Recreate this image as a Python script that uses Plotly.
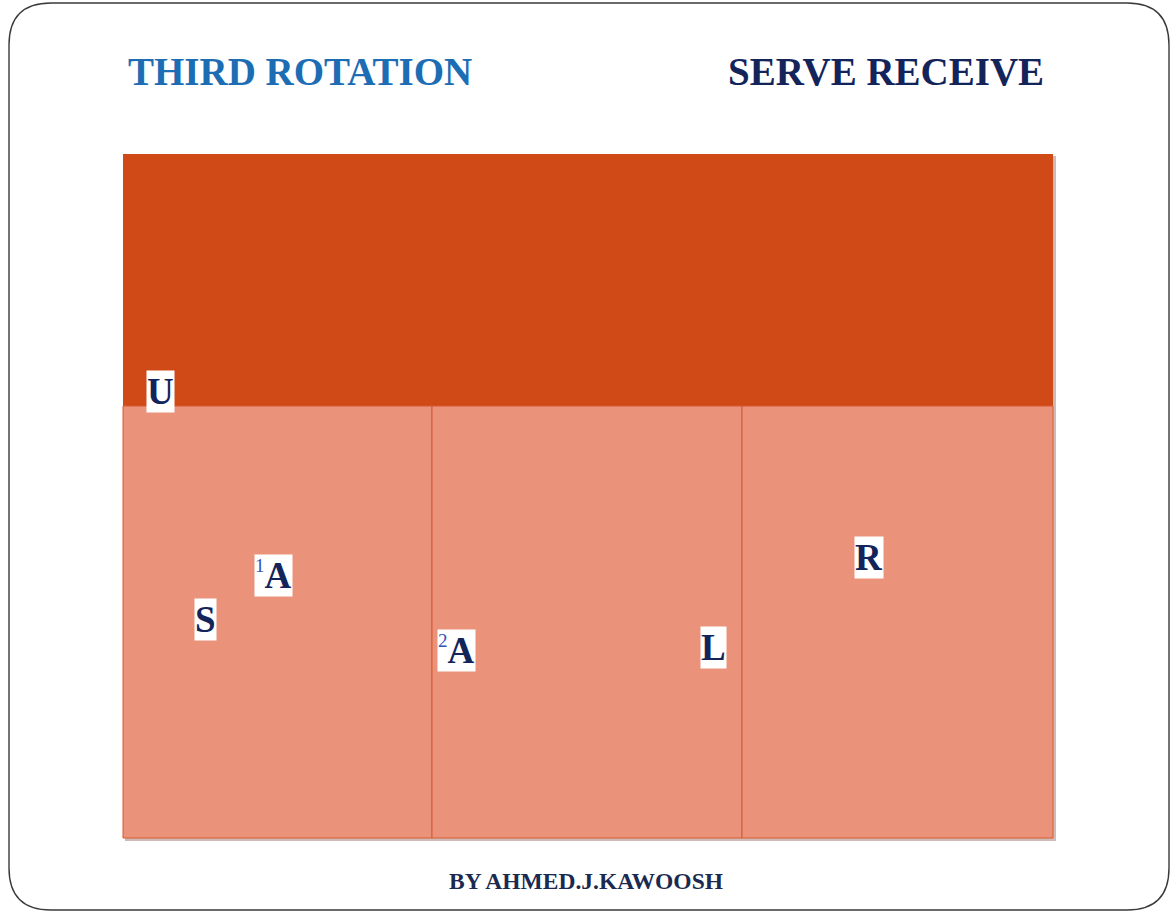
import plotly.graph_objects as go

# ---- data ----
W, H = 1175, 914
court_x = [123, 432, 742, 1053]          # column boundaries
court_y = [154, 406, 838]                # top, attack line, baseline
players = ["U", "A", "S", "A", "L", "R"]
player_sup = ["", "1", "", "2", "", ""]
player_x = [160, 273, 205, 456, 713, 869]
player_y = [391, 575, 619, 650, 647, 557]
title_left = "THIRD ROTATION"
title_right = "SERVE RECEIVE"
footer = "BY AHMED.J.KAWOOSH"

fig = go.Figure()
fig.add_trace(go.Scatter(x=[0, W], y=[0, H], mode="markers",
                         marker=dict(opacity=0), hoverinfo="skip", showlegend=False))

shapes = []
# slide border (rounded)
r = 42
x0, y0, x1, y1 = 9, 3, 1169, 910
path = (f"M{x0+r},{y0} L{x1-r},{y0} Q{x1},{y0} {x1},{y0+r} L{x1},{y1-r} "
        f"Q{x1},{y1} {x1-r},{y1} L{x0+r},{y1} Q{x0},{y1} {x0},{y1-r} "
        f"L{x0},{y0+r} Q{x0},{y0} {x0+r},{y0} Z")
shapes.append(dict(type="path", path=path, xref="x", yref="y",
                   line=dict(color="#3a3a3a", width=1.4), fillcolor="white", layer="below"))
# shadow
shapes.append(dict(type="rect", xref="x", yref="y", x0=court_x[0]+2, x1=court_x[-1]+3,
                   y0=court_y[0]+2, y1=court_y[-1]+3, line=dict(width=0),
                   fillcolor="rgba(120,60,40,0.35)", layer="below"))
# front zone
shapes.append(dict(type="rect", xref="x", yref="y", x0=court_x[0], x1=court_x[-1],
                   y0=court_y[0], y1=court_y[1], line=dict(width=0),
                   fillcolor="#d04a17", layer="below"))
# back zones
for i in range(3):
    shapes.append(dict(type="rect", xref="x", yref="y", x0=court_x[i], x1=court_x[i+1],
                       y0=court_y[1], y1=court_y[2],
                       line=dict(color="#d65a30", width=1),
                       fillcolor="#eb937a", layer="below"))

annotations = []
for name, sup, px, py in zip(players, player_sup, player_x, player_y):
    txt = f"<b>{name}</b>" if not sup else \
        f"<sup><span style='font-size:19px;color:#3452b4'>{sup}</span></sup><b>{name}</b>"
    annotations.append(dict(x=px, y=py, xref="x", yref="y", text=txt, showarrow=False,
                            font=dict(family="Liberation Serif", size=37, color="#13245a"),
                            bgcolor="white", borderpad=0,
                            xanchor="center", yanchor="middle"))

annotations.append(dict(x=126, y=71, xref="x", yref="y", text=f"<b>{title_left}</b>",
                        showarrow=False, xanchor="left", yanchor="middle",
                        font=dict(family="Liberation Serif", size=39, color="#1c6db3")))
annotations.append(dict(x=1046, y=71, xref="x", yref="y", text=f"<b>{title_right}</b>",
                        showarrow=False, xanchor="right", yanchor="middle",
                        font=dict(family="Liberation Serif", size=39, color="#13245a")))
annotations.append(dict(x=586, y=881, xref="x", yref="y", text=f"<b>{footer}</b>",
                        showarrow=False, xanchor="center", yanchor="middle",
                        font=dict(family="Liberation Serif", size=23.5, color="#1a2a50")))

fig.update_layout(
    width=W, height=H, margin=dict(l=0, r=0, t=0, b=0),
    paper_bgcolor="white", plot_bgcolor="white",
    xaxis=dict(range=[0, W], visible=False, fixedrange=True),
    yaxis=dict(range=[H, 0], visible=False, fixedrange=True),
    shapes=shapes, annotations=annotations, showlegend=False,
)
fig.write_html("out.html", config={"displayModeBar": False},
               post_script="document.body.style.margin='0';document.body.style.overflow='hidden';")
